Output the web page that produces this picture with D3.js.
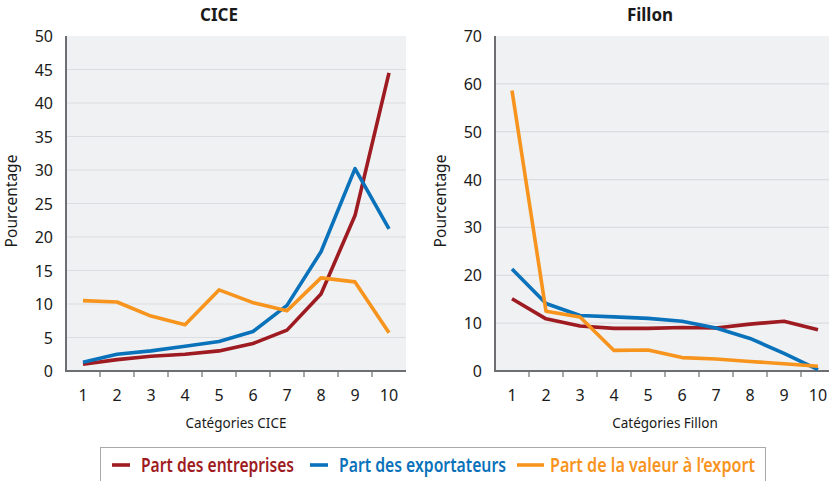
<!DOCTYPE html>
<html>
<head>
<meta charset="UTF-8">
<script src="https://cdn.jsdelivr.net/npm/d3@7"></script>
<style>
  body { margin: 0; background: #fff; }
  text { font-family: 'Noto Sans', 'Open Sans', sans-serif; fill: #1a1a1a; }
</style>
</head>
<body>
<svg id="chart" width="829" height="481"></svg>
<script>
// data
const categories = [1, 2, 3, 4, 5, 6, 7, 8, 9, 10];
const seriesNames = ["Part des entreprises", "Part des exportateurs", "Part de la valeur à l’export"];
const seriesColors = ["#9e1b22", "#0a72ba", "#f7941d"];

const ciceEntreprises  = [1.0, 1.7, 2.2, 2.5, 3.0, 4.1, 6.1, 11.5, 23.2, 44.5];
const ciceExportateurs = [1.3, 2.5, 3.0, 3.7, 4.4, 5.9, 9.8, 17.8, 30.2, 21.2];
const ciceValeur       = [10.5, 10.3, 8.2, 6.9, 12.1, 10.2, 9.0, 13.9, 13.3, 5.7];

const fillonEntreprises  = [15.1, 10.9, 9.4, 8.9, 8.9, 9.1, 9.0, 9.8, 10.4, 8.6];
const fillonExportateurs = [21.3, 14.1, 11.6, 11.3, 11.0, 10.4, 9.0, 6.8, 3.7, 0.3];
const fillonValeur       = [58.6, 12.5, 11.3, 4.3, 4.4, 2.8, 2.5, 2.0, 1.5, 1.0];

const ciceTicks   = [0, 5, 10, 15, 20, 25, 30, 35, 40, 45, 50];
const fillonTicks = [0, 10, 20, 30, 40, 50, 60, 70];

const svg = d3.select("#chart");

const drawPanel = (cfg) => {
    const g = svg.append("g");
    const x = d3.scaleBand().domain(categories).range([cfg.left, cfg.right]);
    const y = d3.scaleLinear().domain([0, cfg.max]).range([371, 36]);

    g.append("rect")
        .attr("x", cfg.left).attr("y", 36)
        .attr("width", cfg.right - cfg.left).attr("height", 335)
        .attr("fill", "#f0f1f3");

    // grid
    g.selectAll(".grid")
        .data(cfg.ticks.slice(1, -1))
        .enter().append("line")
        .attr("x1", cfg.left).attr("x2", cfg.right)
        .attr("y1", d => y(d)).attr("y2", d => y(d))
        .attr("stroke", "#dcdde0").attr("stroke-width", 1.2);

    // y labels
    g.selectAll(".yl")
        .data(cfg.ticks)
        .enter().append("text")
        .attr("x", cfg.left - 13).attr("y", d => y(d) + 6)
        .attr("text-anchor", "end")
        .style("font-size", "16px")
        .text(d => d);

    // x ticks between bands
    g.selectAll(".xt")
        .data(categories.slice(1))
        .enter().append("line")
        .attr("x1", d => x(d)).attr("x2", d => x(d))
        .attr("y1", 371).attr("y2", 377)
        .attr("stroke", "#6d6e71").attr("stroke-width", 1.2);

    g.selectAll(".xl")
        .data(categories)
        .enter().append("text")
        .attr("x", d => x(d) + x.bandwidth() / 2).attr("y", 401)
        .attr("text-anchor", "middle")
        .style("font-size", "16px")
        .text(d => d);

    // axes lines
    g.append("line").attr("x1", cfg.left).attr("x2", cfg.left).attr("y1", 36).attr("y2", 372)
        .attr("stroke", "#6d6e71").attr("stroke-width", 2);
    g.append("line").attr("x1", cfg.left - 1).attr("x2", cfg.right).attr("y1", 371).attr("y2", 371)
        .attr("stroke", "#6d6e71").attr("stroke-width", 2);

    const line = d3.line()
        .x((d, i) => x(categories[i]) + x.bandwidth() / 2)
        .y(d => y(d));

    cfg.series.forEach((s, i) => {
        g.append("path")
            .attr("d", line(s))
            .attr("fill", "none")
            .attr("stroke", seriesColors[i])
            .attr("stroke-width", 3.6)
            .attr("stroke-linejoin", "round");
    });

    g.append("text")
        .attr("x", cfg.titleX).attr("y", 21)
        .attr("text-anchor", "middle")
        .style("font-size", "17px").style("font-weight", "bold")
        .text(cfg.title);

    g.append("text")
        .attr("transform", `translate(${cfg.left - 49},201) rotate(-90)`)
        .attr("text-anchor", "middle")
        .style("font-size", "15.5px")
        .text("Pourcentage");

    g.append("text")
        .attr("x", (cfg.left + cfg.right) / 2).attr("y", 428)
        .attr("text-anchor", "middle")
        .style("font-size", "13.5px")
        .text(cfg.xTitle);
};

drawPanel({
    left: 66, right: 406, max: 50, ticks: ciceTicks, title: "CICE", titleX: 219,
    xTitle: "Catégories CICE", series: [ciceEntreprises, ciceExportateurs, ciceValeur]
});
drawPanel({
    left: 495, right: 835, max: 70, ticks: fillonTicks, title: "Fillon", titleX: 650,
    xTitle: "Catégories Fillon", series: [fillonEntreprises, fillonExportateurs, fillonValeur]
});

// legend
const legend = svg.append("g");
legend.append("rect")
    .attr("x", 100.5).attr("y", 447.5).attr("width", 665).attr("height", 40)
    .attr("fill", "#fff").attr("stroke", "#a7a9ac").attr("stroke-width", 1);

const legendPos = [
    {lx: 112, lw: 18, tx: 141, tw: 153},
    {lx: 310, lw: 18, tx: 339, tw: 167},
    {lx: 517, lw: 27, tx: 550, tw: 205}
];
seriesNames.forEach((name, i) => {
    const p = legendPos[i];
    legend.append("line")
        .attr("x1", p.lx).attr("x2", p.lx + p.lw)
        .attr("y1", 465).attr("y2", 465)
        .attr("stroke", seriesColors[i]).attr("stroke-width", 3.6);
    legend.append("text")
        .attr("x", p.tx).attr("y", 471.5)
        .attr("textLength", p.tw).attr("lengthAdjust", "spacingAndGlyphs")
        .style("font-size", "19px").style("font-weight", "600")
        .style("fill", seriesColors[i])
        .text(name);
});
</script>
</body>
</html>
